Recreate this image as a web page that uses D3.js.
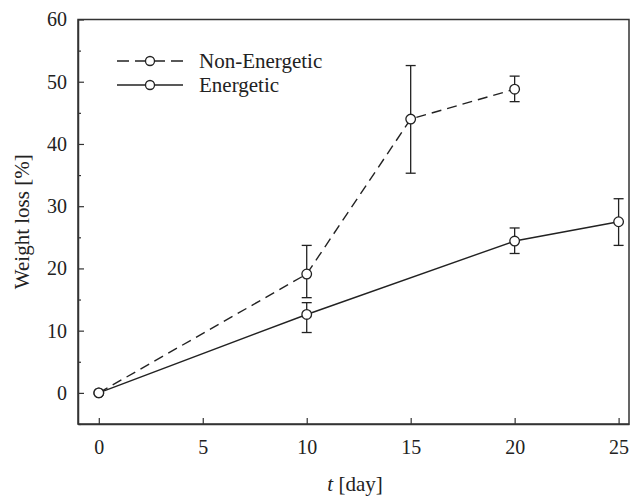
<!DOCTYPE html>
<html>
<head>
<meta charset="utf-8">
<script src="https://cdn.jsdelivr.net/npm/d3@7"></script>
<style>
  body { margin: 0; background: #fff; }
  text { font-family: "Liberation Serif", "DejaVu Serif", serif; fill: #222; }
</style>
</head>
<body>
<script>
var w = 630;
var h = 497;

// Non-Energetic series
var neDays = [0, 10, 15, 20];
var neLoss = [0, 19.1, 44.0, 48.8];
var neLow = [0, 15.3, 35.3, 46.8];
var neHigh = [0, 23.7, 52.6, 50.9];

// Energetic series
var eDays = [0, 10, 20, 25];
var eLoss = [0, 12.6, 24.4, 27.5];
var eLow = [0, 9.7, 22.4, 23.7];
var eHigh = [0, 14.5, 26.5, 31.2];

var xTicks = [0, 5, 10, 15, 20, 25];
var yTicks = [0, 10, 20, 30, 40, 50, 60];
var yMinor = [-5, 5, 15, 25, 35, 45, 55];

// note: "top" is reserved on window, so plot edges get their own names
var plotLeft = 78, plotRight = 629, plotTop = 19.5, plotBottom = 424;
const radius = 4.8;

var xScale = d3.scaleLinear().domain([-1, 25.5]).range([plotLeft, plotRight]);
var yScale = d3.scaleLinear().domain([-5, 60]).range([plotBottom, plotTop]);

var svg = d3.select("body")
    .append("svg")
    .attr("width", w)
    .attr("height", h);

var series = [
    {name: "Non-Energetic", dash: "10,6", days: neDays, loss: neLoss, lo: neLow, hi: neHigh},
    {name: "Energetic", dash: null, days: eDays, loss: eLoss, lo: eLow, hi: eHigh}
];

// frame
svg.append("rect")
    .attr("x", plotLeft)
    .attr("y", plotTop)
    .attr("width", plotRight - plotLeft)
    .attr("height", plotBottom - plotTop)
    .attr("fill", "none")
    .attr("stroke", "#333")
    .attr("stroke-width", 1.5);

var xAxis = d3.axisBottom(xScale)
    .tickValues(xTicks)
    .tickSizeInner(-6)
    .tickSizeOuter(0)
    .tickPadding(16);

var yAxis = d3.axisLeft(yScale)
    .tickValues(yTicks)
    .tickSizeInner(-6)
    .tickSizeOuter(0)
    .tickPadding(11);

var gx = svg.append("g")
    .attr("transform", `translate(0,${plotBottom})`)
    .call(xAxis);

var gy = svg.append("g")
    .attr("transform", `translate(${plotLeft},0)`)
    .call(yAxis);

svg.append("g")
    .attr("transform", `translate(${plotLeft},0)`)
    .call(d3.axisLeft(yScale).tickValues(yMinor).tickSizeInner(-3).tickSizeOuter(0).tickFormat(""))
    .select(".domain").remove();

[gx, gy].forEach(g => {
    g.select(".domain").attr("stroke", "#333").attr("stroke-width", 1.5);
    g.selectAll(".tick text")
        .attr("font-size", 20)
        .attr("font-family", "Liberation Serif")
        .attr("fill", "#222");
});

svg.selectAll(".tick line").attr("stroke", "#333").attr("stroke-width", 1.2);

// error bars
series.forEach(s => {
    var g = svg.append("g");
    s.days.forEach((d, i) => {
        if (s.hi[i] === s.lo[i]) return;
        var x = xScale(d);
        g.append("line")
            .attr("x1", x).attr("x2", x)
            .attr("y1", yScale(s.lo[i])).attr("y2", yScale(s.hi[i]))
            .attr("stroke", "#222").attr("stroke-width", 1.3);
        [s.lo[i], s.hi[i]].forEach(v => {
            g.append("line")
                .attr("x1", x - 5).attr("x2", x + 5)
                .attr("y1", yScale(v)).attr("y2", yScale(v))
                .attr("stroke", "#222").attr("stroke-width", 1.3);
        });
    });
});

var line = d3.line()
    .x(d => xScale(d[0]))
    .y(d => yScale(d[1]));

series.forEach(s => {
    var pts = s.days.map((d, i) => [d, s.loss[i]]);
    svg.append("path")
        .datum(pts)
        .attr("d", line)
        .attr("fill", "none")
        .attr("stroke", "#222")
        .attr("stroke-width", 1.4)
        .attr("stroke-dasharray", s.dash);
    svg.append("g").selectAll("circle")
        .data(pts)
        .enter()
        .append("circle")
        .attr("cx", d => xScale(d[0]))
        .attr("cy", d => yScale(d[1]))
        .attr("r", radius)
        .attr("fill", "#fff")
        .attr("stroke", "#222")
        .attr("stroke-width", 1.3);
});

// legend
var legend = svg.append("g");
series.forEach((s, i) => {
    var y = 61 + i * 24;
    legend.append("line")
        .attr("x1", 117).attr("x2", 183)
        .attr("y1", y).attr("y2", y)
        .attr("stroke", "#222")
        .attr("stroke-width", 1.4)
        .attr("stroke-dasharray", s.dash ? "12,6" : null);
    legend.append("circle")
        .attr("cx", 150).attr("cy", y)
        .attr("r", 4.5)
        .attr("fill", "#fff")
        .attr("stroke", "#222")
        .attr("stroke-width", 1.3);
    legend.append("text")
        .attr("x", 199).attr("y", y + 7)
        .attr("font-size", 21)
        .text(s.name);
});

// axis titles
var xt = svg.append("text")
    .attr("x", 355)
    .attr("y", 491)
    .attr("text-anchor", "middle")
    .attr("font-size", 21);
xt.append("tspan").attr("font-style", "italic").text("t");
xt.append("tspan").text(" [day]");

svg.append("text")
    .attr("transform", `translate(29,${(plotTop + plotBottom) / 2}) rotate(-90)`)
    .attr("text-anchor", "middle")
    .attr("font-size", 21)
    .text("Weight loss [%]");
</script>
</body>
</html>
